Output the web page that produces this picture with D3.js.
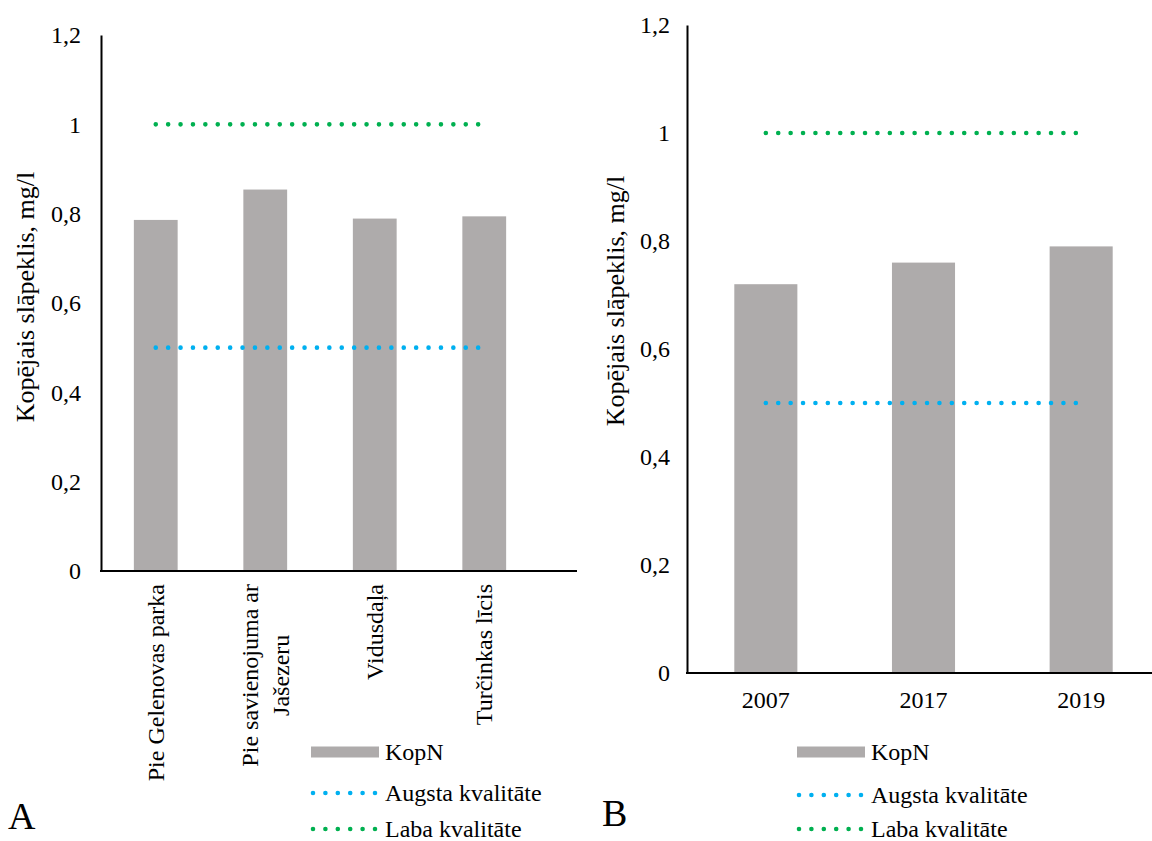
<!DOCTYPE html>
<html>
<head>
<meta charset="utf-8">
<script src="https://cdn.jsdelivr.net/npm/d3@7"></script>
<style>
  html, body { margin: 0; padding: 0; background: #fff; }
  svg { display: block; }
  svg text { font-family: 'Liberation Serif', 'Times New Roman', serif; fill: #000; }
</style>
</head>
<body>
<svg id="chart" width="1152" height="841"></svg>
<script>
// Panel A: sampling sites
const sitesA = ["Pie Gelenovas parka", "Pie savienojuma ar\nJašezeru", "Vidusdaļa", "Turčinkas līcis"];
const kopNA = [0.786, 0.854, 0.789, 0.794];
const augstaA = [0.5, 0.5, 0.5, 0.5];
const labaA = [1, 1, 1, 1];

// Panel B: years
const yearsB = ["2007", "2017", "2019"];
const kopNB = [0.72, 0.76, 0.79];
const augstaB = [0.5, 0.5, 0.5];
const labaB = [1, 1, 1];

const yTicks = [0, 0.2, 0.4, 0.6, 0.8, 1, 1.2];
const legendLabels = ["KopN", "Augsta kvalitāte", "Laba kvalitāte"];
const yTitle = "Kopējais slāpeklis, mg/l";

const BAR = "#AEABAB", BLUE = "#00B0F0", GREEN = "#00B050";
const SERIF = "'Liberation Serif', 'Times New Roman', serif";
const fmt = v => String(v).replace(".", ",");

const svg = d3.select("#chart");

function txt(sel, size) {
  return sel.style("font-family", SERIF).style("font-size", size + "px").attr("fill", "#000");
}

function panel(cfg) {
  const g = svg.append("g");
  const x = d3.scalePoint().domain(cfg.cats).range([cfg.x0, cfg.x1]).padding(0.5);
  const step = x.step();
  const bw = step * 0.4;
  const y = d3.scaleLinear().domain([0, 1.2]).range([cfg.yBase, cfg.yTop]);

  // bars
  g.selectAll("rect.bar").data(cfg.cats).join("rect")
    .attr("x", d => x(d) - bw / 2)
    .attr("width", bw)
    .attr("y", (d, i) => y(cfg.kopN[i]))
    .attr("height", (d, i) => y(0) - y(cfg.kopN[i]))
    .attr("fill", BAR);

  // dotted reference lines
  const line = d3.line().x(d => x(d[0])).y(d => y(d[1]));
  [[cfg.augsta, BLUE], [cfg.laba, GREEN]].forEach(([vals, col]) => {
    g.append("path")
      .attr("d", line(cfg.cats.map((c, i) => [c, vals[i]])))
      .attr("fill", "none").attr("stroke", col)
      .attr("stroke-width", 4.6).attr("stroke-linecap", "round")
      .attr("stroke-dasharray", "0 12.4");
  });

  // y axis
  const yAxis = d3.axisLeft(y).tickValues(yTicks).tickSize(0).tickPadding(cfg.tickPad).tickFormat(fmt);
  const ya = g.append("g").attr("transform", `translate(${cfg.x0},0)`).call(yAxis);
  ya.attr("font-family", null).attr("font-size", null);
  ya.select(".domain").attr("stroke", "#000").attr("stroke-width", 2);
  txt(ya.selectAll("text"), 24);

  // x axis line
  g.append("line").attr("x1", cfg.x0 - 1).attr("x2", cfg.xAxisEnd)
    .attr("y1", y(0)).attr("y2", y(0)).attr("stroke", "#000").attr("stroke-width", 2);

  // y title
  txt(g.append("text")
    .attr("transform", `translate(${cfg.titleX},${cfg.titleY}) rotate(-90)`)
    .attr("text-anchor", "middle").attr("dominant-baseline", "central"), 26)
    .text(yTitle);

  // category labels
  if (cfg.rotated) {
    const lh = 31;
    cfg.cats.forEach(c => {
      const lines = c.split("\n");
      // measure the longest line so multi-line labels stay centred as a block
      const probe = txt(g.append("text"), 24);
      const maxLen = d3.max(lines, l => { probe.text(l); return probe.node().getComputedTextLength(); });
      probe.remove();
      const cx = x(c);
      lines.forEach((l, k) => {
        const off = (k - (lines.length - 1) / 2) * lh;
        txt(g.append("text")
          .attr("transform", `translate(${cx + off},${cfg.labelTop + maxLen / 2}) rotate(-90)`)
          .attr("text-anchor", "middle").attr("dominant-baseline", "central"), 24)
          .text(l);
      });
    });
  } else {
    txt(g.selectAll("text.cat").data(cfg.cats).join("text")
      .attr("x", d => x(d)).attr("y", cfg.labelTop)
      .attr("text-anchor", "middle"), 24)
      .text(d => d);
  }

  // legend
  const lg = g.append("g").attr("transform", `translate(${cfg.legX},0)`);
  const rows = cfg.legRows;
  lg.append("rect").attr("x", 0).attr("y", rows[0] - 5.5).attr("width", 68).attr("height", 11).attr("fill", BAR);
  [[rows[1], BLUE], [rows[2], GREEN]].forEach(([ry, col]) => {
    lg.append("line").attr("x1", 2).attr("x2", 64.5).attr("y1", ry).attr("y2", ry)
      .attr("stroke", col).attr("stroke-width", 4.6).attr("stroke-linecap", "round")
      .attr("stroke-dasharray", "0 12.4");
  });
  legendLabels.forEach((lab, i) => {
    txt(lg.append("text").attr("x", 74).attr("y", rows[i])
      .attr("dominant-baseline", "central"), 24)
      .text(lab);
  });

  // panel letter
  txt(g.append("text").attr("x", cfg.letterX).attr("y", cfg.letterY), 38)
    .text(cfg.letter);
}

panel({
  cats: sitesA, kopN: kopNA, augsta: augstaA, laba: labaA,
  x0: 101, x1: 539, xAxisEnd: 577, yBase: 571, yTop: 35,
  tickPad: 20, titleX: 25, titleY: 297,
  rotated: true, labelTop: 584,
  legX: 311, legRows: [752, 793, 829],
  letter: "A", letterX: 8, letterY: 829
});

panel({
  cats: yearsB, kopN: kopNB, augsta: augstaB, laba: labaB,
  x0: 687, x1: 1160, xAxisEnd: 1152, yBase: 673, yTop: 25,
  tickPad: 17, titleX: 615, titleY: 301,
  rotated: false, labelTop: 708,
  legX: 797, legRows: [752, 795, 829],
  letter: "B", letterX: 602, letterY: 826
});
</script>
</body>
</html>
